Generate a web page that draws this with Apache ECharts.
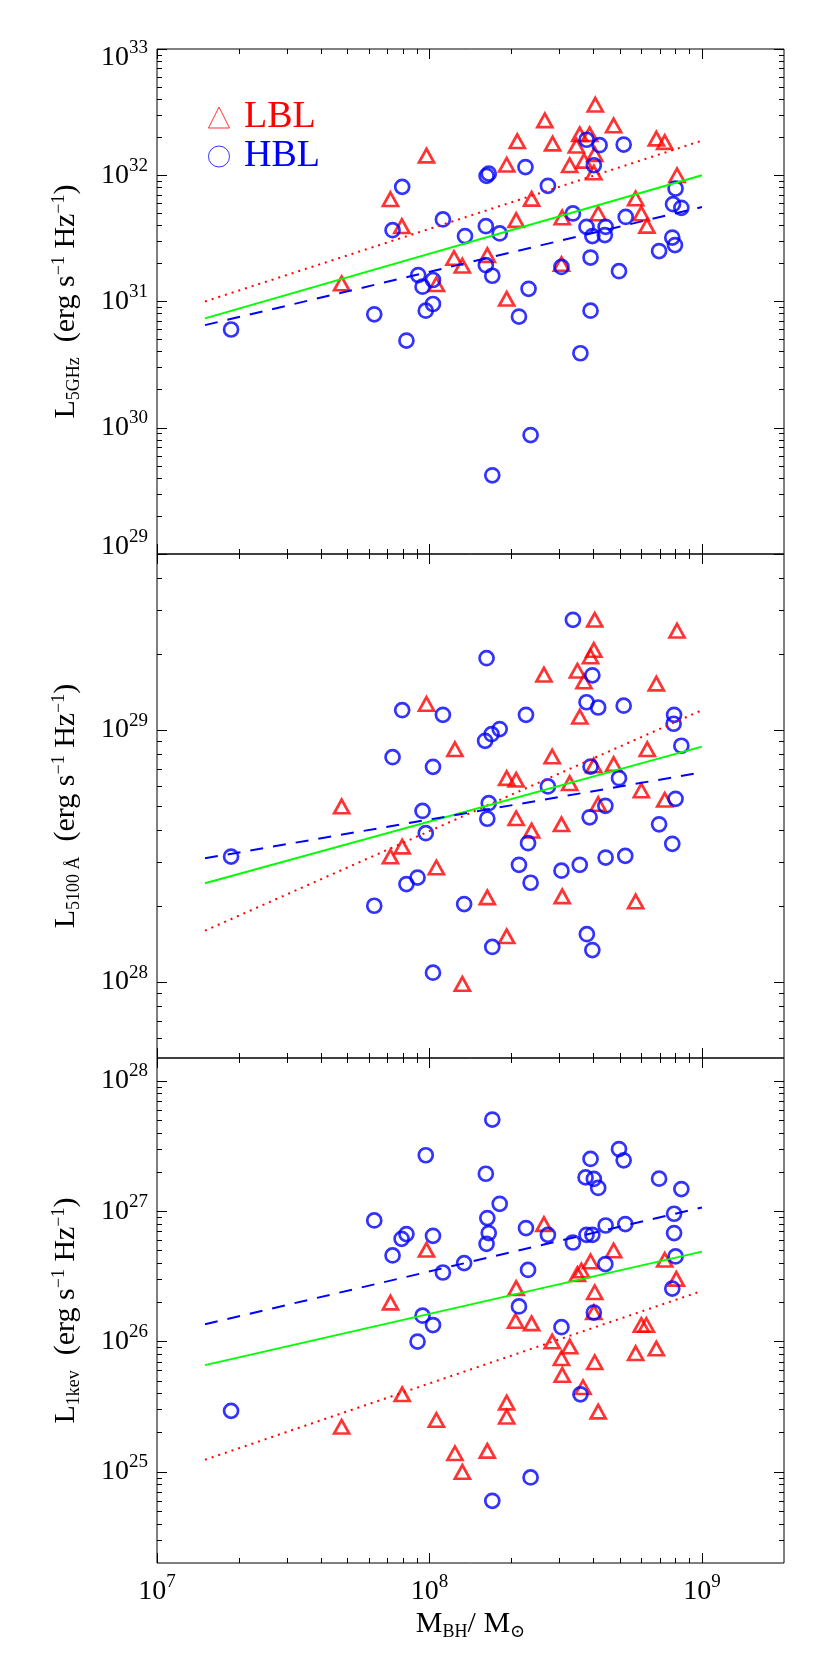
<!DOCTYPE html>
<html><head><meta charset="utf-8">
<script src="https://cdn.jsdelivr.net/npm/echarts@6/dist/echarts.min.js"></script>
<style>html,body{margin:0;padding:0;background:#fff}#c{width:830px;height:1663px}</style>
</head><body><div id="c"></div>
<script>
const FONT = "'Liberation Serif','Times New Roman','DejaVu Serif',serif";

// ---------- axis ranges & tick labels ----------
const xRange = [1e7, 2e9];
const xMajorTicks = [1e7, 1e8, 1e9];
const p1YRange = [1e29, 1e33];
const p1YTicks = [1e29, 1e30, 1e31, 1e32, 1e33];
const p2YRange = [5e27, 5e29];
const p2YTicks = [1e28, 1e29];
const p3YRange = [2e24, 1.5e28];
const p3YTicks = [1e25, 1e26, 1e27, 1e28];

// ---------- panel 1 : L_5GHz ----------
const p1LblMass = [4.76e7,7.19e7,7.92e7,9.75e7,1.06e8,1.23e8,1.32e8,1.63e8,1.92e8,1.92e8,2.08e8,2.10e8,2.37e8,2.65e8,2.83e8,3.05e8,3.07e8,3.27e8,3.46e8,3.56e8,3.69e8,3.87e8,4.04e8,4.01e8,4.06e8,4.16e8,4.74e8,5.71e8,5.99e8,6.28e8,6.80e8,7.30e8,8.1e8];
const p1LblLum  = [1.39e31,6.46e31,3.95e31,1.43e32,1.37e31,2.21e31,1.92e31,2.33e31,1.05e31,1.21e32,4.41e31,1.86e32,6.5e31,2.72e32,1.78e32,1.98e31,4.63e31,1.2e32,1.71e32,2.11e32,1.30e32,2.11e32,1.47e32,1.05e32,3.62e32,4.98e31,2.48e32,6.55e31,4.98e31,3.97e31,1.95e32,1.83e32,1.0e32];
const p1HblMass = [1.87e7,6.27e7,7.32e7,7.94e7,8.23e7,9.09e7,9.43e7,1.03e8,1.03e8,9.69e7,1.12e8,1.35e8,1.61e8,1.62e8,1.65e8,1.61e8,1.70e8,1.81e8,2.13e8,2.25e8,2.31e8,2.35e8,1.70e8,2.72e8,3.05e8,3.36e8,3.77e8,3.96e8,3.90e8,3.90e8,3.58e8,3.77e8,4.21e8,4.01e8,4.43e8,4.40e8,4.96e8,5.16e8,5.25e8,6.96e8,7.78e8,7.96e8,7.83e8,8.4e8,8.0e8];
const p1HblLum  = [6.0e30,7.92e30,3.67e31,8.09e31,4.9e30,1.62e31,1.31e31,1.48e31,9.55e30,8.46e30,4.47e31,3.3e31,3.95e31,9.9e31,1.03e32,1.94e31,1.6e31,3.46e31,7.59e30,1.16e32,1.26e31,8.75e29,4.2e29,8.24e31,1.88e31,4.98e31,3.9e31,3.3e31,2.23e31,8.46e30,3.89e30,1.91e32,1.73e32,1.2e32,3.9e31,3.36e31,1.74e31,1.75e32,4.68e31,2.51e31,3.21e31,2.8e31,5.9e31,5.52e31,7.85e31];

// ---------- panel 2 : L_5100A ----------
const p2LblMass = [4.76e7,7.19e7,7.94e7,9.75e7,1.06e8,1.24e8,1.32e8,1.63e8,1.92e8,1.92e8,2.08e8,2.08e8,2.37e8,2.63e8,2.82e8,3.05e8,3.07e8,3.27e8,3.49e8,3.56e8,3.69e8,3.90e8,4.01e8,4.04e8,4.01e8,4.16e8,4.74e8,5.71e8,5.99e8,6.30e8,6.80e8,7.30e8,8.1e8];
const p2LblLum  = [4.98e28,3.15e28,3.45e28,1.27e29,2.85e28,8.4e28,9.84e27,2.17e28,6.45e28,1.52e28,6.35e28,4.47e28,3.99e28,1.66e29,7.86e28,4.23e28,2.19e28,6.16e28,1.72e29,1.13e29,1.56e29,1.96e29,2.08e29,2.74e29,7.24e28,5.09e28,7.33e28,2.09e28,5.76e28,8.4e28,1.53e29,5.29e28,2.48e29];
const p2HblMass = [1.87e7,6.27e7,7.32e7,7.94e7,8.23e7,9.04e7,9.43e7,9.69e7,1.03e8,1.03e8,1.12e8,1.34e8,1.60e8,1.69e8,1.81e8,1.62e8,1.65e8,1.63e8,1.70e8,2.13e8,2.26e8,2.30e8,2.35e8,2.72e8,3.05e8,3.36e8,3.56e8,3.77e8,3.96e8,4.16e8,3.90e8,3.87e8,3.78e8,3.96e8,4.42e8,4.43e8,4.96e8,5.16e8,5.23e8,6.96e8,7.78e8,8.0e8,7.9e8,7.87e8,8.4e8];
const p2HblLum  = [3.15e28,2.01e28,7.81e28,1.2e29,2.45e28,2.6e28,4.78e28,3.9e28,1.09e28,7.15e28,1.15e29,2.04e28,9.07e28,9.64e28,1.01e29,1.93e29,5.13e28,4.45e28,1.38e28,2.92e28,1.15e29,3.56e28,2.48e28,5.98e28,2.77e28,2.74e29,2.92e28,1.29e29,1.65e29,1.23e29,7.17e28,4.51e28,1.55e28,1.34e28,5.01e28,3.12e28,6.45e28,1.25e29,3.17e28,4.23e28,3.54e28,5.34e28,1.15e29,1.06e29,8.67e28];

// ---------- panel 3 : L_1kev ----------
const p3LblMass = [4.76e7,7.19e7,7.94e7,9.75e7,1.06e8,1.24e8,1.32e8,1.63e8,1.92e8,1.92e8,2.08e8,2.07e8,2.37e8,2.63e8,2.82e8,3.05e8,3.07e8,3.27e8,3.49e8,3.61e8,3.66e8,3.90e8,4.04e8,4.01e8,4.04e8,4.16e8,4.74e8,5.71e8,5.99e8,6.25e8,6.80e8,7.30e8,8.05e8];
const p3LblLum  = [2.22e25,1.99e26,3.94e25,5.06e26,2.5e25,1.39e25,1.0e25,1.45e25,3.4e25,2.65e25,2.57e26,1.44e26,1.38e26,7.97e26,1.0e26,7.45e25,5.55e25,9.16e25,3.29e26,3.51e26,4.46e25,4.12e26,2.39e26,1.68e26,6.94e25,2.9e25,5.0e26,8.14e25,1.34e26,1.34e26,8.84e25,4.24e26,3.03e26];
const p3HblMass = [1.87e7,6.27e7,7.32e7,7.9e7,8.23e7,1.03e8,9.69e7,9.43e7,1.03e8,9.04e7,1.12e8,1.34e8,1.61e8,1.70e8,1.81e8,1.63e8,1.65e8,1.62e8,1.70e8,2.13e8,2.26e8,2.30e8,2.35e8,2.72e8,3.05e8,3.36e8,3.58e8,3.77e8,3.96e8,3.90e8,3.74e8,4.01e8,4.16e8,4.01e8,4.43e8,4.42e8,4.96e8,5.16e8,5.23e8,6.96e8,7.78e8,8.0e8,7.9e8,7.9e8,8.4e8];
const p3HblLum  = [2.94e25,8.5e26,4.58e26,6.15e26,6.68e26,6.48e26,2.69e27,1.58e26,1.34e26,1.0e26,3.39e26,4.0e26,1.94e27,5.05e27,1.14e27,8.86e26,6.8e26,5.63e26,6.0e24,1.86e26,7.43e26,3.55e26,9.07e24,6.6e26,1.29e26,5.76e26,3.94e25,6.6e26,6.6e26,2.52e27,1.82e27,1.77e27,1.51e27,1.67e26,7.78e26,3.93e26,3.0e27,2.46e27,7.97e26,1.78e27,2.55e26,4.5e26,6.8e26,9.57e26,1.48e27];

// ---------- fitted lines (end points) ----------
const fitMass = [1.5e7, 1e9];
const p1FitAll = [7.35e30, 1.0e32];
const p1FitLbl = [1.0e31, 1.88e32];
const p1FitHbl = [6.5e30, 5.6e31];
const p2FitAll = [2.47e28, 8.6e28];
const p2FitLbl = [1.6e28, 1.2e29];
const p2FitHbl = [3.1e28, 6.8e28];
const p3FitAll = [6.6e25, 4.9e26];
const p3FitLbl = [1.24e25, 2.45e26];
const p3FitHbl = [1.36e26, 1.07e27];

// ---------- build ----------
const lg = Math.log10;
const pairs = (xs, ys) => xs.map((x, i) => [lg(x), lg(ys[i])]);
function minorTicks(r) {
  const out = [];
  for (let n = Math.floor(lg(r[0])); n <= Math.ceil(lg(r[1])); n++)
    for (let k = 2; k <= 9; k++) {
      const v = k * Math.pow(10, n);
      if (v > r[0] * 1.0001 && v < r[1] * 0.9999) out.push(lg(v));
    }
  return out;
}

const tickLine = {color: '#000', width: 1};
const tB = {fontFamily: FONT, fontSize: 28, color: '#000'};
const tS = {fontFamily: FONT, fontSize: 19, lineHeight: 10, verticalAlign: 'top', color: '#000'};
const tickRich = {
  b: Object.assign({}, tB, {lineHeight: 38, verticalAlign: 'middle'}),
  s: tS,
  bt: Object.assign({}, tB, {lineHeight: 56, verticalAlign: 'bottom', padding: [0, 0, 5, 0]}),
  st: Object.assign({}, tS, {padding: [18, 0, 0, 0]}),
  bu: Object.assign({}, tB, {lineHeight: 52, verticalAlign: 'bottom', padding: [0, 0, 19, 0]}),
  su: tS
};
const nameRich = {
  m: {fontFamily: FONT, fontSize: 30, lineHeight: 36, verticalAlign: 'bottom', padding: [0, 0, 2, 0], color: '#000'},
  b: {fontFamily: FONT, fontSize: 18, lineHeight: 20, verticalAlign: 'bottom', color: '#000'},
  p: {fontFamily: FONT, fontSize: 18, lineHeight: 20, verticalAlign: 'top', padding: [3, 0, 0, 0], color: '#000'}
};
function powFmt(topV, botV) {
  return function (v) {
    const e = Math.round(v);
    let s = '';
    if (topV != null && Math.abs(v - topV) < 1e-6) s = 't';
    else if (botV != null && Math.abs(v - botV) < 1e-6) s = 'u';
    return '{b' + s + '|10}{s' + s + '|' + e + '}';
  };
}
function mkAxis(g, pos, range, vals, len, label, extra) {
  const ax = {
    type: 'value', gridIndex: g, position: pos, offset: 0,
    min: lg(range[0]), max: lg(range[1]),
    axisLine: {show: false, onZero: false},
    splitLine: {show: false}, minorTick: {show: false}, minorSplitLine: {show: false},
    axisTick: {show: true, inside: true, length: len, customValues: vals, lineStyle: tickLine},
    axisLabel: label ? Object.assign({show: true, customValues: vals, color: '#000', fontFamily: FONT, fontSize: 28, rich: tickRich}, label) : {show: false},
    silent: true, z: 5
  };
  return Object.assign(ax, extra || {});
}

const layout = [{top: 49, height: 505}, {top: 554, height: 504}, {top: 1058, height: 505}];
const panels = [
  {yr: p1YRange, yt: p1YTicks, lblM: p1LblMass, lblL: p1LblLum, hblM: p1HblMass, hblL: p1HblLum,
   all: p1FitAll, fl: p1FitLbl, fh: p1FitHbl, sub: '5GHz', top: 33, bot: 29},
  {yr: p2YRange, yt: p2YTicks, lblM: p2LblMass, lblL: p2LblLum, hblM: p2HblMass, hblL: p2HblLum,
   all: p2FitAll, fl: p2FitLbl, fh: p2FitHbl, sub: '5100 Å', top: null, bot: null},
  {yr: p3YRange, yt: p3YTicks, lblM: p3LblMass, lblL: p3LblLum, hblM: p3HblMass, hblL: p3HblLum,
   all: p3FitAll, fl: p3FitLbl, fh: p3FitHbl, sub: '1kev', top: null, bot: null}
];

const grid = [], xAxis = [], yAxis = [], series = [];
const xMaj = xMajorTicks.map(lg), xMin = minorTicks(xRange);
panels.forEach((p, g) => {
  grid.push({left: 157, top: layout[g].top, width: 627, height: layout[g].height, show: true,
             borderColor: '#000', borderWidth: 1, backgroundColor: 'transparent', containLabel: false, outerBoundsMode: 'none'});
  const last = g === panels.length - 1;
  xAxis.push(mkAxis(g, 'bottom', xRange, xMaj, 10, last ? {margin: 10, formatter: powFmt(null, null)} : null,
    last ? {name: '{m|M}{b|BH}{m|/ M}{b|⊙}', nameLocation: 'middle', nameGap: 42,
            nameTextStyle: {color: '#000', fontFamily: FONT, fontSize: 30, rich: nameRich}} : null));
  xAxis.push(mkAxis(g, 'bottom', xRange, xMin, 5, null));
  xAxis.push(mkAxis(g, 'top', xRange, xMaj, 10, null));
  xAxis.push(mkAxis(g, 'top', xRange, xMin, 5, null));
  const yMaj = p.yt.map(lg), yMin = minorTicks(p.yr);
  yAxis.push(mkAxis(g, 'left', p.yr, yMaj, 10, {margin: 9, formatter: powFmt(p.top, p.bot)},
    {name: '{m|L}{b|' + p.sub + '}{m|  (erg s}{p|−1}{m| Hz}{p|−1}{m|)}', nameLocation: 'middle', nameGap: 74, nameRotate: 90,
     nameMoveOverlap: false, nameTextStyle: {color: '#000', fontFamily: FONT, fontSize: 30, rich: nameRich}}));
  yAxis.push(mkAxis(g, 'left', p.yr, yMin, 5, null));
  yAxis.push(mkAxis(g, 'right', p.yr, yMaj, 10, null));
  yAxis.push(mkAxis(g, 'right', p.yr, yMin, 5, null));
  const xi = 4 * g, yi = 4 * g;
  series.push({type: 'scatter', name: 'LBL', xAxisIndex: xi, yAxisIndex: yi, data: pairs(p.lblM, p.lblL),
    symbol: 'triangle', symbolSize: [15, 13.5], silent: true, z: 3,
    itemStyle: {color: 'rgba(0,0,0,0)', borderColor: '#ff0000', borderWidth: 2.7}});
  series.push({type: 'scatter', name: 'HBL', xAxisIndex: xi, yAxisIndex: yi, data: pairs(p.hblM, p.hblL),
    symbol: 'circle', symbolSize: 14, silent: true, z: 3,
    itemStyle: {color: 'rgba(0,0,0,0)', borderColor: '#0000ff', borderWidth: 2.7}});
  const line = (ys, color, type, nm) => ({type: 'line', name: nm, xAxisIndex: xi, yAxisIndex: yi,
    data: pairs(fitMass, ys), symbol: 'none', showSymbol: false, silent: true, z: 4,
    lineStyle: {color: color, width: 2, type: type}});
  series.push(line(p.fl, '#ff0000', [2, 5], 'fitLBL' + g));
  series.push(line(p.all, '#00ff00', 'solid', 'fitAll' + g));
  series.push(line(p.fh, '#0000ff', [13, 10], 'fitHBL' + g));
});

const chart = echarts.init(document.getElementById('c'), null, {renderer: 'canvas'});
chart.setOption({
  animation: false,
  backgroundColor: '#fff',
  grid: grid, xAxis: xAxis, yAxis: yAxis, series: series,
  legend: {
    orient: 'vertical', left: 208, top: 98, itemWidth: 21, itemHeight: 21, itemGap: 0, padding: 0,
    selectedMode: false, formatter: ' {name}',
    textStyle: {fontFamily: FONT, fontSize: 38, lineHeight: 39},
    data: [
      {name: 'LBL', icon: 'triangle', itemStyle: {color: 'rgba(0,0,0,0)', borderColor: '#ff0000', borderWidth: 1}, textStyle: {color: '#ff0000'}},
      {name: 'HBL', icon: 'circle', itemStyle: {color: 'rgba(0,0,0,0)', borderColor: '#0000ff', borderWidth: 1}, textStyle: {color: '#0000ff'}}
    ]
  }
});
</script></body></html>
